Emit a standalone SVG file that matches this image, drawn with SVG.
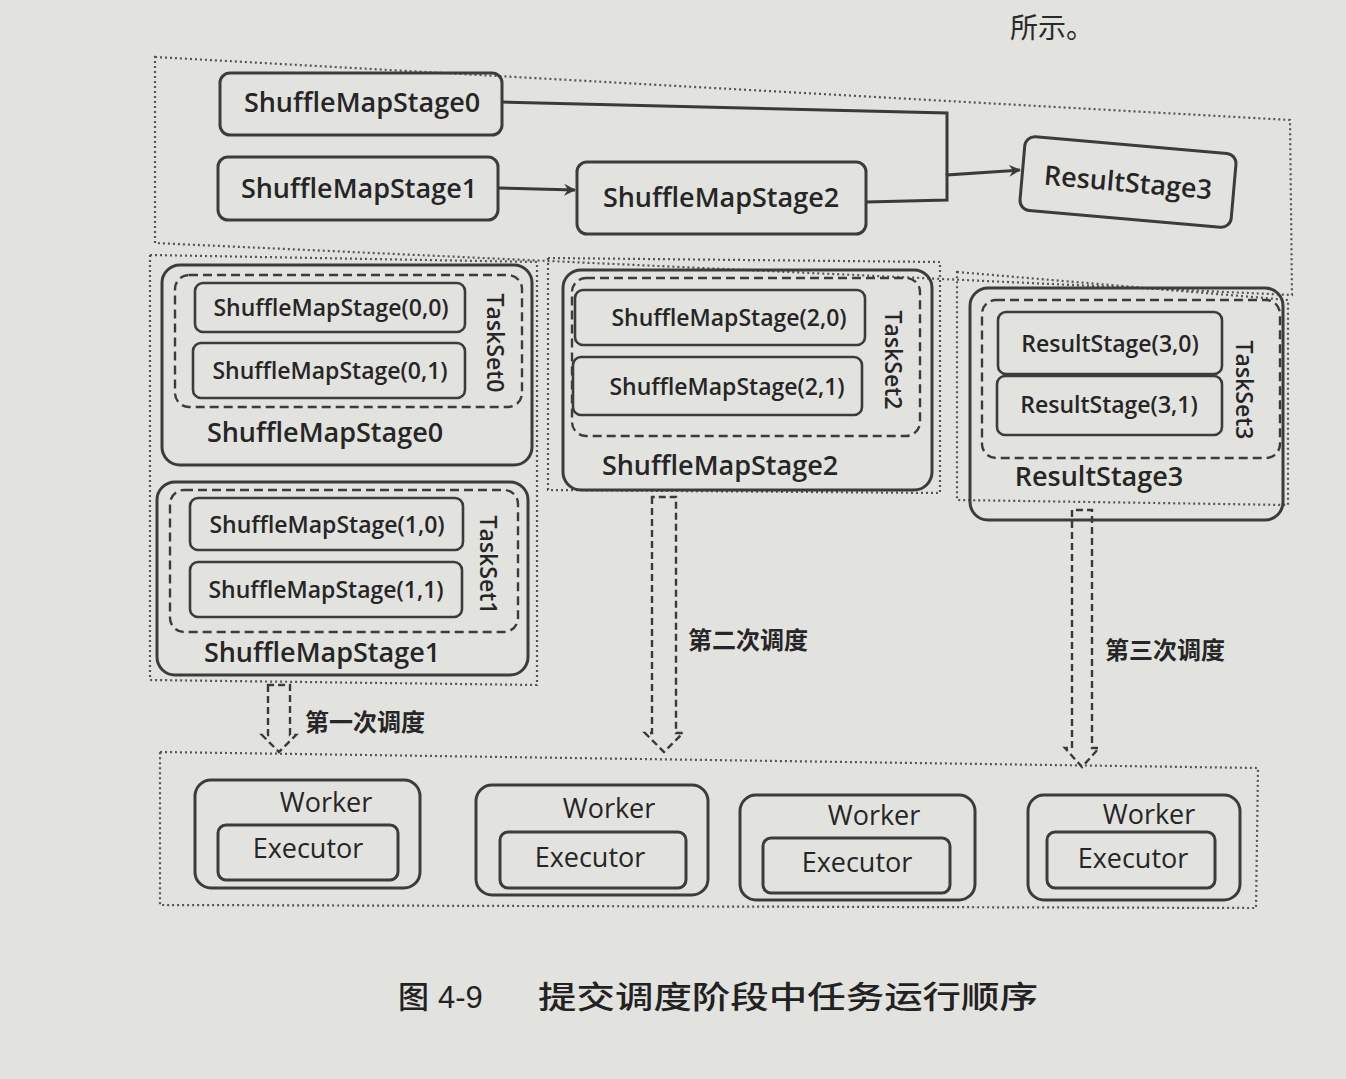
<svg xmlns="http://www.w3.org/2000/svg" width="1346" height="1079" viewBox="0 0 1346 1079">
<defs>
<style>
.bg{fill:#e2e2df}
.box{fill:none;stroke:#3c3c3c;stroke-width:3}
.task{fill:none;stroke:#3c3c3c;stroke-width:2.6}
.dash{fill:none;stroke:#3c3c3c;stroke-width:2.4;stroke-dasharray:9 5}
.dot{fill:none;stroke:#555;stroke-width:2.2;stroke-dasharray:2 3}
.line{fill:none;stroke:#3a3a3a;stroke-width:3}
.dbl{fill:none;stroke:#3a3a3a;stroke-width:2.4;stroke-dasharray:7 4}
.t{font-family:"Open Sans","Noto Sans","DejaVu Sans",sans-serif;fill:#262626;text-anchor:middle;font-weight:600}
.big{font-size:27px}
.mid{font-size:23px}
.w{font-size:27px;font-weight:500}
.cn{font-family:"Noto Sans CJK SC","Noto Sans",sans-serif;fill:#262626;font-size:24px;font-weight:600}
.cap{font-size:31px;fill:#222;font-weight:500}
</style>
<marker id="arr" viewBox="0 0 12 12" refX="11" refY="6" markerWidth="12" markerHeight="12" markerUnits="userSpaceOnUse" orient="auto">
<path d="M0,0 L12,6 L0,12 L4,6 Z" fill="#3a3a3a"/>
</marker>
</defs>
<rect class="bg" x="0" y="0" width="1346" height="1079"/>
<text x="1010" y="38" font-family="Noto Sans CJK SC,sans-serif" font-size="28" fill="#2a2a2a">所示。</text>

<g id="containers">
<path class="dot" d="M155,57 L1290,120 L1292,295 L155,243 Z"/>
<path class="dot" d="M150,255 L537,262 L537,685 L150,680 Z"/>
<path class="dot" d="M548,258 L940,262 L940,493 L548,490 Z"/>
<path class="dot" d="M957,272 L1288,300 L1288,505 L957,500 Z"/>
<path class="dot" d="M160,752 L1258,768 L1256,908 L160,905 Z"/>
</g>

<g id="connectors">
<path class="line" d="M502,102 L947,113 L947,175"/>
<path class="line" d="M866,202 L947,200 L947,175 L1020,170" marker-end="url(#arr)"/>
<path class="line" d="M498,188 L575,190" marker-end="url(#arr)"/>
<path class="dbl" d="M268,685 L268,735 L262,735 L279,752 L296,735 L290,735 L290,685 Z"/>
<path class="dbl" d="M652,497 L652,733 L645,733 L664,752 L683,733 L676,733 L676,497 Z"/>
<path class="dbl" d="M1072,510 L1072,748 L1065,748 L1082,767 L1099,748 L1092,748 L1092,510 Z"/>
<text class="cn" x="305" y="731">第一次调度</text>
<text class="cn" x="688" y="649">第二次调度</text>
<text class="cn" x="1105" y="659" font-size="22">第三次调度</text>
</g>

<g id="ShuffleMapStage0">
<rect class="box" x="220" y="73" width="282" height="62" rx="10"/>
<text class="t big" x="362" y="112">ShuffleMapStage0</text>
</g>
<g id="ShuffleMapStage1">
<rect class="box" x="218" y="157" width="280" height="63" rx="10"/>
<text class="t big" x="359" y="198">ShuffleMapStage1</text>
</g>
<g id="ShuffleMapStage2">
<rect class="box" x="577" y="162" width="289" height="72" rx="10"/>
<text class="t big" x="721" y="207">ShuffleMapStage2</text>
</g>
<g id="ResultStage3" transform="rotate(5 1128 182)">
<rect class="box" x="1022" y="145" width="212" height="74" rx="10"/>
<text class="t big" x="1128" y="192">ResultStage3</text>
</g>

<g id="Stage0Detail">
<rect class="box" x="162" y="265" width="370" height="200" rx="18"/>
<rect class="dash" x="175" y="275" width="347" height="132" rx="14"/>
<rect class="task" x="195" y="283" width="270" height="49" rx="8"/>
<text class="t mid" x="331" y="316">ShuffleMapStage(0,0)</text>
<rect class="task" x="193" y="343" width="272" height="55" rx="8"/>
<text class="t mid" x="330" y="379">ShuffleMapStage(0,1)</text>
<text class="t mid" transform="translate(495,343) rotate(90)" y="8">TaskSet0</text>
<text class="t big" x="325" y="442">ShuffleMapStage0</text>
</g>

<g id="Stage1Detail">
<rect class="box" x="157" y="482" width="371" height="193" rx="18"/>
<rect class="dash" x="170" y="490" width="348" height="142" rx="14"/>
<rect class="task" x="190" y="498" width="273" height="52" rx="8"/>
<text class="t mid" x="327" y="533">ShuffleMapStage(1,0)</text>
<rect class="task" x="190" y="562" width="272" height="55" rx="8"/>
<text class="t mid" x="326" y="598">ShuffleMapStage(1,1)</text>
<text class="t mid" transform="translate(488,565) rotate(90)" y="8">TaskSet1</text>
<text class="t big" x="322" y="662">ShuffleMapStage1</text>
</g>

<g id="Stage2Detail">
<rect class="box" x="563" y="270" width="369" height="220" rx="18"/>
<rect class="dash" x="572" y="278" width="348" height="158" rx="14"/>
<rect class="task" x="575" y="290" width="290" height="55" rx="8"/>
<text class="t mid" x="729" y="326">ShuffleMapStage(2,0)</text>
<rect class="task" x="573" y="357" width="289" height="58" rx="8"/>
<text class="t mid" x="727" y="395">ShuffleMapStage(2,1)</text>
<text class="t mid" transform="translate(893,360) rotate(90)" y="8">TaskSet2</text>
<text class="t big" x="720" y="475">ShuffleMapStage2</text>
</g>

<g id="Stage3Detail">
<rect class="box" x="970" y="288" width="313" height="232" rx="18"/>
<rect class="dash" x="982" y="300" width="298" height="158" rx="14"/>
<rect class="task" x="998" y="312" width="224" height="62" rx="8"/>
<text class="t mid" x="1110" y="352">ResultStage(3,0)</text>
<rect class="task" x="997" y="376" width="225" height="59" rx="8"/>
<text class="t mid" x="1109" y="413">ResultStage(3,1)</text>
<text class="t mid" transform="translate(1244,390) rotate(90)" y="8">TaskSet3</text>
<text class="t big" x="1099" y="486">ResultStage3</text>
</g>

<g id="Worker1">
<rect class="box" x="195" y="780" width="225" height="108" rx="16"/>
<text class="t w" x="326" y="812">Worker</text>
<rect class="box" x="218" y="825" width="180" height="55" rx="8"/>
<text class="t w" x="308" y="858">Executor</text>
</g>
<g id="Worker2">
<rect class="box" x="476" y="785" width="232" height="110" rx="16"/>
<text class="t w" x="609" y="818">Worker</text>
<rect class="box" x="500" y="832" width="186" height="56" rx="8"/>
<text class="t w" x="590" y="867">Executor</text>
</g>
<g id="Worker3">
<rect class="box" x="740" y="795" width="235" height="105" rx="16"/>
<text class="t w" x="874" y="825">Worker</text>
<rect class="box" x="763" y="838" width="187" height="55" rx="8"/>
<text class="t w" x="857" y="872">Executor</text>
</g>
<g id="Worker4">
<rect class="box" x="1028" y="795" width="212" height="105" rx="16"/>
<text class="t w" x="1149" y="824">Worker</text>
<rect class="box" x="1047" y="832" width="168" height="56" rx="8"/>
<text class="t w" x="1133" y="868">Executor</text>
</g>

<g id="caption">
<text class="cap" x="398" y="1008" font-family="Noto Sans CJK SC,sans-serif">图</text>
<text class="cap" x="438" y="1008" font-family="Liberation Sans,Arial,sans-serif">4-9</text>
<text class="cap" x="538" y="1008" font-family="Noto Sans CJK SC,sans-serif" textLength="500" lengthAdjust="spacingAndGlyphs">提交调度阶段中任务运行顺序</text>
</g>
</svg>
